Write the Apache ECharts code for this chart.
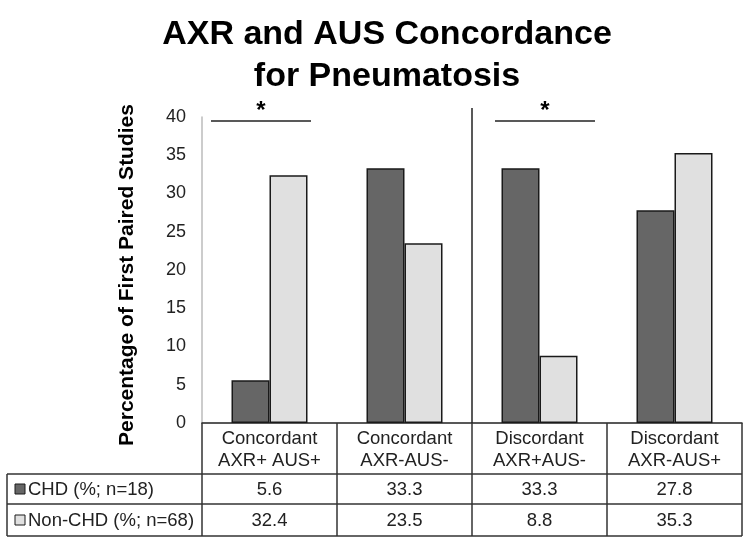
<!DOCTYPE html>
<html>
<head>
<meta charset="utf-8">
<script src="https://cdn.jsdelivr.net/npm/echarts@6/dist/echarts.min.js"></script>
<style>
html,body{margin:0;padding:0;background:#fff;}
#c{width:749px;height:540px;}
</style>
</head>
<body>
<div id="c"></div>
<script>
var categories = ['Concordant\nAXR+ AUS+', 'Concordant\nAXR-AUS-', 'Discordant\nAXR+AUS-', 'Discordant\nAXR-AUS+'];
var chdValues = [5.6, 33.3, 33.3, 27.8];
var nonChdValues = [32.4, 23.5, 8.8, 35.3];
var seriesNames = ['CHD (%; n=18)', 'Non-CHD (%; n=68)'];
var significantGroups = [0, 2];

var FONT = "'Liberation Sans', Arial, sans-serif";
var DARK = '#666666';
var LIGHT = '#e0e0e0';
var EDGE = '#1a1a1a';

var chart = echarts.init(document.getElementById('c'), null, {renderer: 'canvas'});

var option = {
  animation: false,
  backgroundColor: '#ffffff',
  title: {
    text: 'AXR and AUS Concordance\nfor Pneumatosis',
    left: 387,
    textAlign: 'center',
    top: 14,
    padding: 0,
    textStyle: {fontFamily: FONT, fontSize: 34, fontWeight: 'bold', color: '#000', lineHeight: 42}
  },
  grid: {left: 202, right: 7, top: 117, bottom: 117, containLabel: false},
  xAxis: {
    type: 'category',
    data: categories,
    axisLine: {show: true, lineStyle: {color: '#222', width: 1.5}},
    axisTick: {show: true, interval: 0, length: 51, lineStyle: {color: '#333', width: 1.5}},
    axisLabel: {interval: 0, margin: 5, fontFamily: FONT, fontSize: 18.5, lineHeight: 22, color: '#222'},
    splitLine: {show: false}
  },
  yAxis: {
    type: 'value',
    min: 0, max: 40, interval: 5,
    name: 'Percentage of First Paired Studies',
    nameLocation: 'middle',
    nameGap: 64,
    nameRotate: 90,
    nameTextStyle: {fontFamily: FONT, fontSize: 21, fontWeight: 'bold', color: '#000', padding: [0, 10, 0, 0]},
    axisLine: {show: true, lineStyle: {color: '#bbbbbb', width: 1.5}},
    axisTick: {show: false},
    axisLabel: {margin: 16, fontFamily: FONT, fontSize: 18, color: '#222'},
    splitLine: {show: false}
  },
  series: [
    {name: seriesNames[0], type: 'bar', data: chdValues, barWidth: 38, barGap: '0%',
     itemStyle: {color: DARK, borderColor: EDGE, borderWidth: 1.5}},
    {name: seriesNames[1], type: 'bar', data: nonChdValues, barWidth: 38, barGap: '0%',
     itemStyle: {color: LIGHT, borderColor: EDGE, borderWidth: 1.5}}
  ]
};
chart.setOption(option);

// Build the data table, divider and significance marks from the axes
var base = chart.convertToPixel({yAxisIndex: 0}, 0);
var top40 = chart.convertToPixel({yAxisIndex: 0}, 40);
var centers = categories.map(function (c, i) { return chart.convertToPixel({xAxisIndex: 0}, i); });
var band = centers[1] - centers[0];
var bounds = centers.map(function (c) { return c - band / 2; });
bounds.push(centers[centers.length - 1] + band / 2);

var tableLeft = 7;
var rowTops = [base + 51, base + 81, base + 113];
var lineStyle = {stroke: '#333', lineWidth: 1.5};
var g = [];

rowTops.forEach(function (y) {
  g.push({type: 'line', shape: {x1: tableLeft, y1: y, x2: bounds[bounds.length - 1], y2: y}, style: lineStyle});
});
[tableLeft].concat(bounds).forEach(function (x) {
  g.push({type: 'line', shape: {x1: x, y1: rowTops[0], x2: x, y2: rowTops[2]}, style: lineStyle});
});

var rowData = [chdValues, nonChdValues];
var rowColors = [DARK, LIGHT];
rowData.forEach(function (vals, r) {
  var cy = (rowTops[r] + rowTops[r + 1]) / 2;
  g.push({type: 'rect', shape: {x: 15, y: cy - 5, width: 10, height: 10},
          style: {fill: rowColors[r], stroke: EDGE, lineWidth: 1}});
  g.push({type: 'text', x: 28, y: cy + 1,
          style: {text: seriesNames[r], font: '18.5px ' + FONT, fill: '#222', textAlign: 'left', textVerticalAlign: 'middle'}});
  vals.forEach(function (v, i) {
    g.push({type: 'text', x: centers[i], y: cy + 1,
            style: {text: v.toFixed(1), font: '18.5px ' + FONT, fill: '#222', textAlign: 'center', textVerticalAlign: 'middle'}});
  });
});

var divX = (centers[1] + centers[2]) / 2;
g.push({type: 'line', shape: {x1: divX, y1: top40 - 9, x2: divX, y2: base}, style: {stroke: '#222', lineWidth: 1.5}});

var sigOffsets = [[9, 109], [23, 123]];
significantGroups.forEach(function (gi, k) {
  var x1 = bounds[gi] + sigOffsets[k][0];
  var x2 = bounds[gi] + sigOffsets[k][1];
  var y = top40 + 4;
  g.push({type: 'line', shape: {x1: x1, y1: y, x2: x2, y2: y}, style: {stroke: '#222', lineWidth: 1.5}});
  g.push({type: 'text', x: (x1 + x2) / 2, y: y - 10,
          style: {text: '*', font: 'bold 24px ' + FONT, fill: '#000', textAlign: 'center', textVerticalAlign: 'middle'}});
});

chart.setOption({graphic: {elements: g}});
</script>
</body>
</html>
